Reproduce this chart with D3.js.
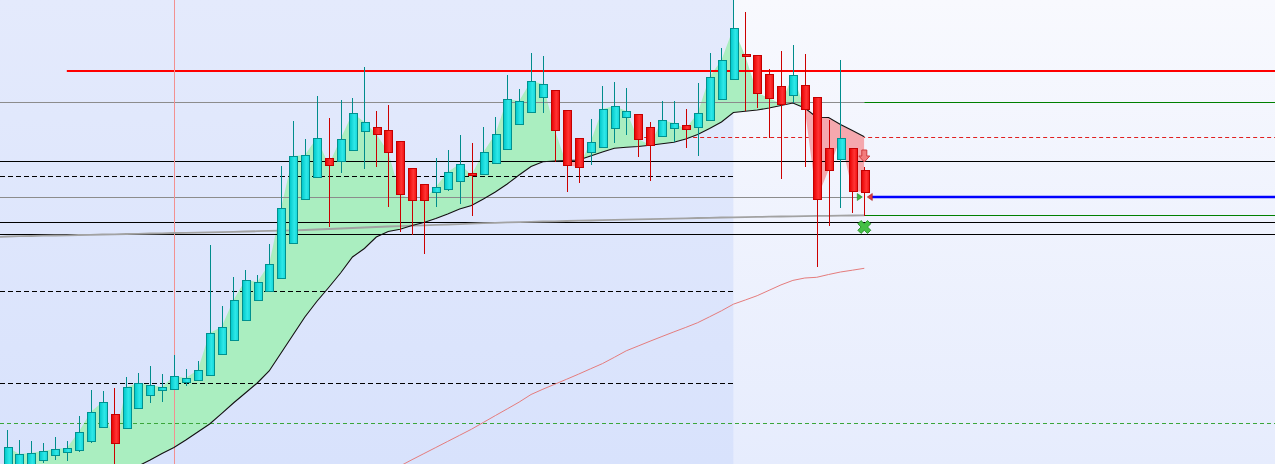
<!DOCTYPE html>
<html>
<head>
<meta charset="utf-8">
<script src="https://cdn.jsdelivr.net/npm/d3@7/dist/d3.min.js"></script>
<style>
html,body{margin:0;padding:0;background:#fff;overflow:hidden;}
svg{display:block;}
</style>
</head>
<body>
<svg id="chart" width="1275" height="464"></svg>
<script>
// ---------- DATA (price units) ----------
const openP  = [30,30,32,40,45,48,50,59,73,86,72,92,105,110,111,118,120,125,146,160,180,200,209,222,257,301,323,342,339,350,369,373,370,359,332,316,308,311,319,327,326,337,351,376,388,403,410,390,362,348,353,372,383,386,373,364,372,375,373,380,401,421,446,445,426,414,405,415,403,352,341,352,330];
const highP  = [70,60,59,57,63,59,84,110,109,112,123,127,134,126,145,131,139,255,194,223,230,225,256,334,379,361,404,382,400,402,433,389,395,359,332,316,342,350,365,357,373,383,425,411,447,444,410,390,362,381,414,418,412,386,378,399,399,391,417,447,452,505,488,445,431,449,455,446,403,380,440,352,333];
const lowP   = [27,27,30,37,40,39,48,57,73,25,72,92,97,98,111,114,120,125,146,160,180,200,209,222,257,301,323,273,327,350,331,333,293,268,265,246,293,309,296,284,326,337,351,376,388,387,338,308,317,335,353,357,365,343,319,364,358,352,344,380,401,421,389,392,362,321,397,333,233,274,292,287,284];
const closeP = [53,46,47,49,51,52,68,88,98,57,113,117,115,113,124,122,130,167,173,200,220,218,236,292,344,345,362,335,361,387,378,366,348,306,300,300,313,328,336,325,348,366,401,399,419,416,370,335,333,358,391,394,389,361,355,380,377,371,387,423,440,472,444,407,402,396,425,391,301,330,362,309,308];

// slow moving average (black line), one value per candle
const slowMA = [-40,-33,-26,-19,-12,-5,2,10,17,23,29,34,40,46.5,52.5,60,68,76,86.4,97,107,117,129,147,165,183,198.5,212.5,227,243,251.5,263,268.5,270.7,274.5,277.5,281.5,286,291,294.5,301,308,316,325,333.5,338.3,339,339.5,340,344,348,351.7,352.7,353.5,354.7,356.2,357.8,361,365.5,371.5,378,387.5,388.7,390,392,394.5,397,392,382.7,382.5,375.5,369.5,363.2];

// long moving average (light red line), starts at candle 33
const longMAStart = 33;
const longMA = [34,40.3,46.4,52.5,58.6,64.7,70.8,77.6,84.4,91.1,97.9,105.5,110.8,115.8,120.8,125.9,131.2,136.4,142.7,149.2,154,158.8,163.5,168.1,172.6,177.3,183.2,189.2,195.8,200,204.3,209.7,215.1,219.6,222,222.7,225.5,228,229.8,231.7];

// very long moving average (grey line), starts at candle -1
const trendStart = -1;
const trendMA = [263,263.5,263.8,264,264.3,264.5,264.7,265,265.2,265.5,265.7,266,266.2,266.5,266.7,267,267.1,267.3,267.6,267.9,268.2,268.5,268.8,269.1,269.4,269.7,270,270.5,271,271.5,272,272.5,273,273.5,273.9,274.3,274.7,275.1,275.5,275.9,276.3,276.8,277.2,277.6,277.9,278.2,278.5,278.7,279,279.3,279.5,279.8,280.1,280.4,280.6,280.9,281.2,281.4,281.7,282,282.2,282.5,282.7,282.9,283.1,283.3,283.5,283.7,283.9,284.1,284.2,284.4,284.5,284.7];

// horizontal price levels: [price, colour, width, dash, startCandle, endCandle(null = right edge)]
const levels = [
  [398, "#8c8c8c", 1, null, -2, 72],
  [398, "#008000", 1, null, 72, null],
  [339, "#000000", 1, null, -2, null],
  [324, "#000000", 1, "5,3", -2, 61],
  [303, "#8c8c8c", 1, null, -2, 71.5],
  [278, "#000000", 1, null, -2, null],
  [266, "#000000", 1, null, -2, null],
  [209, "#000000", 1, "5,3", -2, 61],
  [117, "#000000", 1, "5,3", -2, 61],
  [77,  "#3aa63a", 1, "4,3", -2, null],
  [285, "#008000", 1, null, 72, null],
  [429, "#ff0000", 2, null, 5, null],
  [303, "#0000ff", 2.5, null, 72.6, null]
];
const redDashLevel = [363, 53];   // price, start candle
const cursorCandle = 14;           // vertical marker line
const historyEnd = 61;             // end of shaded history zone

// signal markers at the last candle
const lastCandle = 72;
const arrowPrice = 344;
const triPrice = 303;
const crossPrice = 273;

// ---------- SCALES ----------
const W = 1275, H = 464;
const x = d3.scaleLinear().domain([0, 72]).range([7.3, 864.3]);
const y = d3.scaleLinear().domain([0, 500]).range([500, 0]);

const svg = d3.select("#chart");
const defs = svg.append("defs");

function vgrad(id, c1, c2) {
  const g = defs.append("linearGradient").attr("id", id).attr("x1", 0).attr("y1", 0).attr("x2", 0).attr("y2", 1);
  g.append("stop").attr("offset", "0%").attr("stop-color", c1);
  g.append("stop").attr("offset", "100%").attr("stop-color", c2);
}
function hgrad(id, stops) {
  const g = defs.append("linearGradient").attr("id", id).attr("x1", 0).attr("y1", 0).attr("x2", 1).attr("y2", 0);
  stops.forEach(s => g.append("stop").attr("offset", s[0]).attr("stop-color", s[1]));
}
vgrad("bgLeft", "#e4eafc", "#d8e2fc");
vgrad("bgRight", "#f8f9fe", "#e6ecfd");
hgrad("upBody", [["0%", "#00c6c9"], ["60%", "#2ee8e8"], ["100%", "#14d6d9"]]);
hgrad("downBody", [["0%", "#e80000"], ["60%", "#ff3434"], ["100%", "#f01010"]]);

// backgrounds
const xHist = x(historyEnd);
svg.append("rect").attr("x", 0).attr("y", 0).attr("width", W).attr("height", H).attr("fill", "url(#bgRight)");
svg.append("rect").attr("x", 0).attr("y", 0).attr("width", xHist).attr("height", H).attr("fill", "url(#bgLeft)");

const crisp = v => Math.round(v) + 0.5;
const xEnd = v => v === null ? W : x(v);

// red dashed level (below fills)
svg.append("line")
  .attr("x1", x(redDashLevel[1]) - 1).attr("x2", W)
  .attr("y1", crisp(y(redDashLevel[0]))).attr("y2", crisp(y(redDashLevel[0])))
  .attr("stroke", "#e02020").attr("stroke-width", 1).attr("stroke-dasharray", "4,3");

// ---------- fills between close and slow MA ----------
const idx = d3.range(closeP.length);
const area = d3.area().x(i => x(i)).y0(i => y(slowMA[i])).y1(i => y(closeP[i]));
const above = d3.area().x(i => x(i)).y0(0).y1(i => y(slowMA[i]));
const below = d3.area().x(i => x(i)).y0(H).y1(i => y(slowMA[i]));
defs.append("clipPath").attr("id", "clipAbove").append("path").attr("d", above(idx));
defs.append("clipPath").attr("id", "clipBelow").append("path").attr("d", below(idx));
svg.append("path").attr("d", area(idx)).attr("fill", "#aaeec0").attr("clip-path", "url(#clipAbove)");
svg.append("path").attr("d", area(idx)).attr("fill", "#f5a8ae").attr("clip-path", "url(#clipBelow)");

// ---------- horizontal levels ----------
levels.forEach(l => {
  const [p, col, w, dash, s, e] = l;
  const yy = w === 1 ? crisp(y(p)) : Math.round(y(p));
  svg.append("line")
    .attr("x1", s < 0 ? 0 : x(s)).attr("x2", xEnd(e))
    .attr("y1", yy).attr("y2", yy)
    .attr("stroke", col).attr("stroke-width", w)
    .attr("stroke-dasharray", dash);
});

// vertical cursor line
svg.append("line")
  .attr("x1", crisp(x(cursorCandle))).attr("x2", crisp(x(cursorCandle)))
  .attr("y1", 0).attr("y2", H)
  .attr("stroke", "#f29090").attr("stroke-width", 1);

// ---------- moving average lines ----------
const trendLine = d3.line().x((d, k) => x(trendStart + k)).y(d => y(d));
svg.append("path").attr("d", trendLine(trendMA)).attr("fill", "none")
  .attr("stroke", "#a2a2a2").attr("stroke-width", 1.8);

const longLine = d3.line().x((d, k) => x(longMAStart + k)).y(d => y(d));
svg.append("path").attr("d", longLine(longMA)).attr("fill", "none")
  .attr("stroke", "#e57c7c").attr("stroke-width", 1);

const slowLine = d3.line().x((d, k) => x(k)).y(d => y(d));
svg.append("path").attr("d", slowLine(slowMA)).attr("fill", "none")
  .attr("stroke", "#111").attr("stroke-width", 1.1);

// ---------- candles ----------
const bw = 7.5;
const candles = svg.append("g");
idx.forEach(i => {
  const up = closeP[i] >= openP[i];
  const cx = x(i);
  const wx = crisp(cx);
  candles.append("line")
    .attr("x1", wx).attr("x2", wx)
    .attr("y1", y(highP[i])).attr("y2", y(lowP[i]))
    .attr("stroke", up ? "#008c8c" : "#cc0000").attr("stroke-width", 1);
  const top = y(Math.max(openP[i], closeP[i]));
  const bot = y(Math.min(openP[i], closeP[i]));
  candles.append("rect")
    .attr("x", Math.round(cx - bw / 2) + 0.5).attr("y", Math.round(top) + 0.5)
    .attr("width", Math.round(bw)).attr("height", Math.max(1, Math.round(bot - top)))
    .attr("fill", up ? "url(#upBody)" : "url(#downBody)")
    .attr("stroke", up ? "#00918f" : "#c40000").attr("stroke-width", 1);
});

// ---------- markers ----------
const mx = x(lastCandle);
const ay = y(arrowPrice);
svg.append("path")
  .attr("d", `M${mx-2.5},${ay-6} L${mx+2.5},${ay-6} L${mx+2.5},${ay} L${mx+5.5},${ay} L${mx},${ay+6} L${mx-5.5},${ay} L${mx-2.5},${ay} Z`)
  .attr("fill", "#f27c7c").attr("stroke", "#cc3b3b").attr("stroke-width", 1);

const ty = y(triPrice);
svg.append("path")
  .attr("d", `M${mx-7},${ty-3.5} L${mx-2},${ty} L${mx-7},${ty+3.5} Z`)
  .attr("fill", "#3cb43c").attr("stroke", "#1f8a1f").attr("stroke-width", 0.6);
svg.append("path")
  .attr("d", `M${mx+8},${ty-3.5} L${mx+3},${ty} L${mx+8},${ty+3.5} Z`)
  .attr("fill", "#e03c3c").attr("stroke", "#b02020").attr("stroke-width", 0.6);

svg.append("path")
  .attr("d", d3.symbol().type(d3.symbolCross).size(105)())
  .attr("transform", `translate(${mx},${y(crossPrice)}) rotate(45)`)
  .attr("fill", "#45c045").attr("stroke", "#1f8a1f").attr("stroke-width", 0.8);
</script>
</body>
</html>
